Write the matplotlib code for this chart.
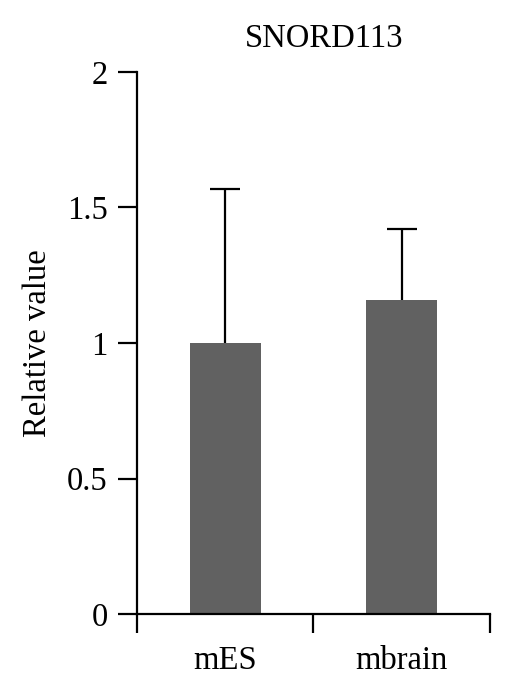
import numpy as np
import matplotlib
matplotlib.use("Agg")
import matplotlib.pyplot as plt

# --- Data ---
categories = ["mES", "mbrain"]
values = [1.0, 1.16]
errors_up = [0.57, 0.26]
title = "SNORD113"
y_ticks = [0, 0.5, 1, 1.5, 2]
y_tick_labels = ["0", "0.5", "1", "1.5", "2"]

plt.rcParams['font.family'] = ['Liberation Serif', 'DejaVu Serif']
fs = 23.5

fig = plt.figure(figsize=(5.13, 6.96), dpi=100)
ax = fig.add_axes([0.267, 0.1178, 0.688, 0.7788])

x = np.arange(len(categories)) + 0.5
ax.bar(x, values, width=0.4, color="#616161", zorder=2)
eb = ax.errorbar(x, values, yerr=[np.zeros(len(values)), errors_up], fmt="none",
                 ecolor="black", elinewidth=1.6, capsize=10.5, capthick=1.6, zorder=3)
# only upper caps
eb[1][0].set_visible(False)

ax.set_xlim(0, 2)
ax.set_ylim(0, 2)
ax.set_xticks([0, 1, 2])
ax.set_xticklabels([])
ax.set_xticks(x, minor=True)
ax.set_xticklabels(categories, minor=True)
ax.tick_params(axis="x", which="minor", length=0, pad=23, labelsize=fs)
ax.tick_params(axis="x", which="major", length=14, width=1.6, direction="out")
ax.set_yticks(y_ticks)
ax.set_yticklabels(y_tick_labels)
ax.tick_params(axis="y", length=14, width=1.6, direction="out", labelsize=fs, pad=7)

for s in ["top", "right"]:
    ax.spines[s].set_visible(False)
for s in ["left", "bottom"]:
    ax.spines[s].set_linewidth(1.6)

ax.set_ylabel("Relative value", fontsize=fs, labelpad=10)
ax.set_title(title, fontsize=fs, pad=18, x=0.53)

fig.savefig("out.png", dpi=100)
